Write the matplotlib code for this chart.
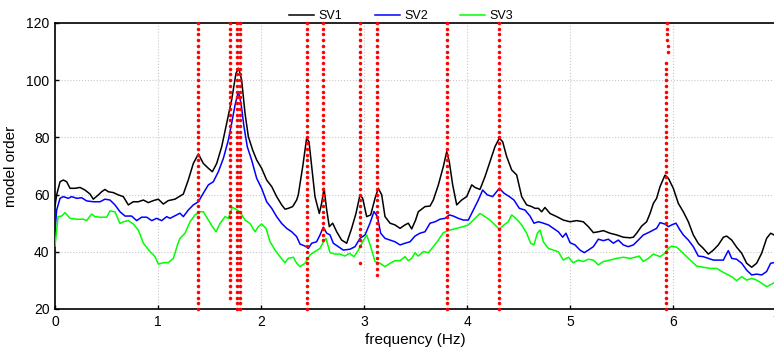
import numpy as np
import matplotlib
matplotlib.use("Agg")
import matplotlib.pyplot as plt

plt.rcParams['font.family'] = ['Liberation Sans', 'DejaVu Sans']

# --- singular value curves ---
sv1_f = [0.0, 0.016, 0.049, 0.081, 0.113, 0.146, 0.194, 0.243, 0.291, 0.340, 0.372, 0.421, 0.453,
         0.485, 0.518, 0.566, 0.615, 0.663, 0.712, 0.760, 0.809, 0.858, 0.906, 0.955, 1.003, 1.052,
         1.100, 1.165, 1.214, 1.246, 1.294, 1.343, 1.392, 1.440, 1.489, 1.528, 1.570, 1.618, 1.667,
         1.715, 1.757, 1.783, 1.812, 1.845, 1.877, 1.919, 1.958, 2.006, 2.055, 2.104, 2.152, 2.201,
         2.233, 2.265, 2.307, 2.346, 2.362, 2.405, 2.443, 2.466, 2.492, 2.524, 2.566, 2.589, 2.612,
         2.638, 2.663, 2.696, 2.735, 2.783, 2.832, 2.880, 2.922, 2.961, 2.987, 3.026, 3.065, 3.107,
         3.139, 3.172, 3.204, 3.253, 3.301, 3.350, 3.398, 3.430, 3.463, 3.500, 3.527, 3.592, 3.641,
         3.673, 3.722, 3.770, 3.803, 3.828, 3.861, 3.900, 3.948, 3.997, 4.046, 4.078, 4.126, 4.175,
         4.223, 4.272, 4.314, 4.346, 4.385, 4.434, 4.482, 4.531, 4.579, 4.628, 4.660, 4.693, 4.725,
         4.757, 4.806, 4.871, 4.935, 5.000, 5.065, 5.129, 5.178, 5.227, 5.275, 5.324, 5.388, 5.453,
         5.518, 5.583, 5.615, 5.647, 5.696, 5.744, 5.777, 5.809, 5.841, 5.874, 5.922, 5.955, 6.003,
         6.052, 6.100, 6.149, 6.197, 6.246, 6.294, 6.343, 6.392, 6.440, 6.489, 6.521, 6.570, 6.618,
         6.667, 6.715, 6.764, 6.812, 6.861, 6.909, 6.948, 6.981, 7.0]
sv1 = [56.0, 59.9, 64.5, 65.1, 64.5, 62.2, 62.2, 62.5, 61.6, 60.2, 58.4, 59.9, 61.0,
       61.8, 61.0, 60.7, 59.9, 59.3, 56.4, 57.5, 57.5, 58.1, 57.2, 57.9, 58.4, 56.7,
       57.9, 58.4, 59.5, 60.2, 65.1, 70.9, 74.2, 70.9, 69.2, 68.0, 70.9, 76.7, 84.9,
       93.1, 102.4, 104.2, 100.1, 88.4, 80.3, 75.6, 72.1, 69.2, 65.1, 62.8, 59.3, 56.4,
       54.9, 55.2, 55.8, 58.1, 59.9, 69.8, 79.7, 78.5, 69.8, 59.3, 53.4, 57.0, 62.2,
       54.6, 48.8, 50.0, 47.0, 44.1, 43.0, 48.2, 53.4, 59.9, 58.7, 52.3, 52.9, 58.7,
       62.2, 59.9, 52.3, 50.0, 49.4, 48.2, 49.4, 50.0, 48.0, 51.0, 54.0, 55.8, 56.0,
       58.1, 63.4, 69.8, 75.0, 71.5, 63.4, 56.4, 58.1, 59.3, 63.4, 62.5, 61.8, 66.3,
       71.5, 76.8, 79.7, 78.5, 73.3, 68.6, 66.9, 59.3, 56.4, 55.8, 55.2, 55.2, 54.0,
       55.5, 53.4, 52.3, 51.1, 50.5, 50.9, 50.5, 48.8, 46.7, 47.0, 47.4, 46.5, 45.9,
       45.1, 44.9, 45.1, 46.5, 49.0, 50.5, 53.4, 56.9, 58.7, 62.8, 66.8, 65.7, 62.2,
       56.9, 54.0, 50.5, 45.9, 42.9, 41.2, 39.2, 40.6, 42.4, 45.1, 45.5, 44.1, 41.6,
       39.5, 36.0, 34.6, 36.0, 39.5, 44.7, 46.5, 45.9, 45.5]

sv2_f = [0.0, 0.016, 0.049, 0.081, 0.129, 0.162, 0.210, 0.259, 0.307, 0.372, 0.437, 0.485, 0.534,
         0.582, 0.631, 0.680, 0.744, 0.793, 0.841, 0.890, 0.939, 0.987, 1.036, 1.084, 1.117, 1.181,
         1.213, 1.246, 1.294, 1.343, 1.392, 1.440, 1.489, 1.537, 1.586, 1.635, 1.683, 1.715, 1.748,
         1.780, 1.806, 1.835, 1.867, 1.909, 1.958, 2.006, 2.055, 2.104, 2.152, 2.201, 2.249, 2.298,
         2.346, 2.379, 2.427, 2.460, 2.492, 2.540, 2.573, 2.605, 2.638, 2.670, 2.702, 2.751, 2.799,
         2.864, 2.913, 2.961, 3.010, 3.058, 3.097, 3.130, 3.162, 3.204, 3.253, 3.301, 3.350, 3.398,
         3.447, 3.495, 3.543, 3.592, 3.641, 3.690, 3.738, 3.787, 3.828, 3.867, 3.916, 3.964, 4.013,
         4.061, 4.110, 4.152, 4.197, 4.249, 4.314, 4.359, 4.411, 4.456, 4.508, 4.563, 4.612, 4.650,
         4.693, 4.725, 4.790, 4.838, 4.887, 4.929, 4.961, 5.000, 5.049, 5.097, 5.139, 5.178, 5.227,
         5.275, 5.324, 5.372, 5.421, 5.469, 5.518, 5.566, 5.615, 5.663, 5.712, 5.761, 5.809, 5.841,
         5.874, 5.922, 5.955, 5.987, 6.029, 6.068, 6.100, 6.149, 6.197, 6.246, 6.294, 6.343, 6.392,
         6.440, 6.489, 6.514, 6.537, 6.570, 6.618, 6.667, 6.715, 6.764, 6.812, 6.861, 6.909, 6.948,
         6.981, 7.0]
sv2 = [47.0, 54.6, 58.7, 59.3, 58.7, 59.3, 58.7, 58.9, 57.8, 57.5, 57.5, 58.4, 58.1,
       56.4, 54.0, 52.5, 52.5, 50.9, 52.1, 52.1, 50.9, 51.7, 50.9, 52.3, 51.7, 52.9,
       53.5, 52.3, 54.6, 56.4, 57.5, 60.5, 63.4, 64.5, 68.0, 72.7, 79.1, 84.9, 91.3,
       96.0, 91.9, 83.7, 76.7, 72.1, 65.7, 62.2, 57.5, 55.2, 52.3, 49.9, 48.2, 47.0,
       45.3, 42.7, 42.0, 41.2, 43.0, 43.5, 45.9, 48.6, 46.5, 45.9, 43.0, 41.8, 40.6,
       40.9, 41.8, 44.7, 45.9, 50.0, 54.1, 52.3, 46.5, 44.7, 44.1, 43.5, 42.4, 43.0,
       43.5, 45.5, 46.5, 47.0, 50.0, 50.5, 51.4, 51.7, 52.9, 52.5, 51.7, 51.1, 51.1,
       54.6, 58.1, 61.6, 59.9, 59.3, 62.2, 60.5, 59.3, 58.1, 55.2, 54.6, 52.5, 50.0,
       50.5, 50.2, 49.4, 48.2, 47.0, 45.1, 46.5, 43.2, 42.4, 40.6, 39.7, 40.6, 41.8,
       44.4, 43.9, 44.4, 43.0, 44.1, 42.4, 41.8, 42.4, 44.1, 45.9, 46.7, 47.6, 48.2,
       50.2, 49.7, 48.8, 49.4, 50.0, 47.6, 45.9, 44.1, 41.8, 38.5, 38.3, 37.7, 37.1,
       37.1, 37.1, 38.9, 40.4, 37.7, 37.4, 36.0, 33.6, 31.9, 32.2, 31.9, 33.1, 36.0,
       36.2, 36.2]

sv3_f = [0.0, 0.030, 0.065, 0.097, 0.146, 0.210, 0.275, 0.307, 0.356, 0.388, 0.437, 0.502, 0.534,
         0.582, 0.631, 0.663, 0.712, 0.760, 0.809, 0.858, 0.922, 0.971, 1.003, 1.052, 1.100, 1.149,
         1.190, 1.213, 1.262, 1.311, 1.359, 1.408, 1.440, 1.489, 1.528, 1.564, 1.602, 1.651, 1.683,
         1.722, 1.757, 1.796, 1.845, 1.893, 1.942, 1.974, 2.006, 2.049, 2.087, 2.136, 2.184, 2.233,
         2.265, 2.314, 2.346, 2.379, 2.427, 2.476, 2.524, 2.573, 2.605, 2.631, 2.670, 2.719, 2.767,
         2.816, 2.858, 2.903, 2.945, 2.987, 3.026, 3.065, 3.107, 3.155, 3.204, 3.253, 3.301, 3.350,
         3.398, 3.430, 3.463, 3.495, 3.527, 3.576, 3.625, 3.673, 3.722, 3.770, 3.835, 3.900, 3.964,
         4.013, 4.061, 4.126, 4.175, 4.223, 4.272, 4.314, 4.359, 4.401, 4.434, 4.482, 4.531, 4.579,
         4.618, 4.650, 4.683, 4.709, 4.741, 4.790, 4.838, 4.887, 4.935, 4.984, 5.032, 5.081, 5.129,
         5.178, 5.227, 5.275, 5.324, 5.388, 5.453, 5.518, 5.583, 5.631, 5.673, 5.712, 5.761, 5.809,
         5.874, 5.922, 5.955, 5.987, 6.036, 6.084, 6.133, 6.181, 6.230, 6.294, 6.359, 6.424, 6.473,
         6.521, 6.570, 6.618, 6.667, 6.715, 6.764, 6.812, 6.861, 6.909, 6.957, 6.981, 7.0]
sv3 = [42.0, 52.3, 52.5, 53.7, 51.7, 51.4, 51.4, 50.9, 53.2, 52.3, 52.1, 52.1, 54.3,
       54.0, 49.9, 50.5, 50.9, 49.7, 47.6, 43.0, 40.1, 38.3, 35.7, 36.2, 36.2, 37.7,
       42.5, 44.7, 46.5, 50.5, 52.9, 54.0, 54.0, 51.1, 48.8, 47.0, 49.9, 52.3, 51.7,
       55.6, 54.9, 54.0, 51.1, 49.9, 47.0, 48.8, 49.7, 48.2, 43.6, 40.6, 38.3, 36.2,
       37.7, 38.1, 36.0, 34.8, 36.0, 38.9, 40.1, 41.2, 43.5, 44.7, 39.7, 39.2, 39.2,
       38.5, 39.5, 38.3, 40.6, 43.5, 45.9, 41.8, 36.6, 36.0, 34.8, 36.0, 36.9, 36.9,
       38.3, 36.9, 37.7, 39.7, 38.5, 40.1, 39.7, 41.8, 44.1, 46.7, 47.6, 48.2, 48.8,
       49.4, 51.1, 53.4, 52.3, 51.1, 49.4, 47.9, 49.4, 50.5, 52.9, 51.4, 49.4, 46.5,
       43.0, 42.4, 46.5, 47.6, 43.5, 41.2, 40.6, 40.0, 37.1, 38.1, 36.2, 37.1, 36.6,
       37.4, 37.1, 35.4, 36.6, 37.1, 37.7, 38.1, 37.7, 38.1, 38.5, 36.6, 37.7, 39.2,
       38.3, 39.5, 41.2, 42.0, 41.6, 40.0, 38.3, 36.6, 35.0, 34.6, 34.2, 34.2, 33.1,
       32.2, 31.3, 29.9, 31.3, 30.1, 30.7, 30.1, 29.0, 27.8, 28.7, 29.2, 29.0]

# --- stable poles: frequency and range of model orders (every 2nd order) ---
pole_freq = [1.392, 1.695, 1.765, 1.793, 2.450, 2.605, 2.961, 2.961, 3.129, 3.809, 4.314,
             5.938, 5.950, 5.932]
pole_lo = [20, 24, 20, 20, 20, 44, 42, 36, 32, 20, 20, 114, 110, 20]
pole_hi = [120, 120, 120, 120, 120, 120, 120, 36, 120, 120, 120, 120, 112, 106]

fig = plt.figure(figsize=(7.74, 3.5), dpi=100)
ax = fig.add_axes([55 / 774, 1 - 309 / 350, 721 / 774, 286 / 350])

ax.plot(sv1_f, sv1, color='black', lw=1.1, label='SV1', zorder=3)
ax.plot(sv2_f, sv2, color='#0000ff', lw=1.1, label='SV2', zorder=3)
ax.plot(sv3_f, sv3, color='#00ff00', lw=1.1, label='SV3', zorder=3)

for f, lo, hi in zip(pole_freq, pole_lo, pole_hi):
    orders = np.arange(lo, hi + 1, 2)
    ax.scatter(np.full(len(orders), f), orders, marker='o', s=6.5, color='#ff0000',
               linewidths=0, zorder=4, clip_on=False)

ax.set_xlim(0, 7)
ax.set_ylim(20, 120)
ax.set_xticks(range(0, 8))
ax.set_yticks(range(20, 121, 20))
ax.grid(True, color='#c8c8c8', linestyle=':', linewidth=0.8)
ax.set_axisbelow(True)
ax.tick_params(direction='in', length=3, width=1, labelsize=10, pad=4)
for s in ['left', 'bottom', 'top']:
    ax.spines[s].set_linewidth(1.2)
ax.spines['right'].set_visible(False)

ax.set_xlabel('frequency (Hz)', fontsize=11, labelpad=3)
ax.set_ylabel('model order', fontsize=11, labelpad=6)

ax.legend(loc='lower center', bbox_to_anchor=(0.48, 0.995), ncol=3, frameon=False,
          fontsize=9, handlelength=2.0, columnspacing=2.6, handletextpad=0.35,
          borderaxespad=0, borderpad=0.2)

fig.savefig('out.png', dpi=100)
